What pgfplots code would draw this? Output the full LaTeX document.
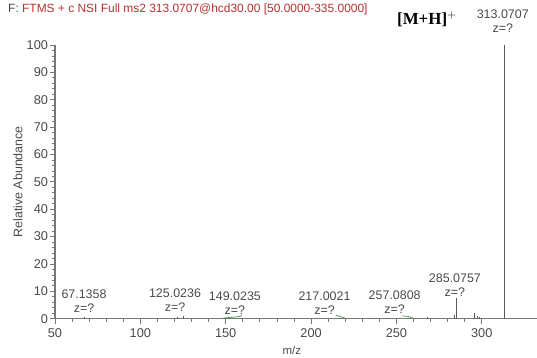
\documentclass[border=0pt]{standalone}
\usepackage{pgfplots}
\pgfplotsset{compat=1.18}
\usepackage{fontspec}
\setmainfont{Liberation Sans}
\newfontfamily\serifb{Liberation Serif}
\definecolor{axgray}{HTML}{777777}
\definecolor{txtgray}{HTML}{4A4A4A}
\definecolor{titlered}{HTML}{B8302F}
\definecolor{peakgray}{HTML}{5A5A5A}
\definecolor{fitgreen}{HTML}{3E8E3E}
\begin{document}
\begin{tikzpicture}
\path[use as bounding box] (0,0) rectangle (537bp,358bp);
\begin{axis}[
  scale only axis,
  width=486.5bp, height=273.7bp,
  at={(55bp,39.3bp)}, anchor=south west,
  xmin=50, xmax=335, ymin=0, ymax=100,
  clip=false,
  axis x line=bottom, axis y line=left,
  axis line style={-, axgray, line width=1.3pt},
  xtick={50,100,...,300}, minor x tick num=4,
  ytick={0,10,...,100}, minor y tick num=4,
  tick align=outside,
  major tick length=5bp, minor tick length=3bp,
  every tick/.style={axgray, line width=0.8pt},
  /pgf/number format/assume math mode=true,
  tick label style={font=\fontsize{12.8}{14}\selectfont, text=txtgray},
  xticklabel style={yshift=-1bp},
  yticklabel style={xshift=1.5bp},
  xlabel={m/z}, ylabel={Relative Abundance},
  every axis x label/.style={at={(axis description cs:0.487,-0.1144)}, anchor=center, font=\fontsize{11.5}{13}\selectfont, text=txtgray},
  every axis y label/.style={at={(axis description cs:-0.076,0.5)}, rotate=90, anchor=center, font=\fontsize{12.5}{14}\selectfont, text=txtgray},
]
\addplot[ycomb, no marks, peakgray, line width=0.9pt] coordinates {
(313.0707,100)
(285.0757,7.5)
(284.2,1.5)
(296.0,2.0)
(297.6,1.0)
(298.6,0.8)
(268.0,0.8)
(67.1358,0.6)
(125.0236,1.0)
(122.0,0.5)
(149.0235,0.4)
(217.0021,0.3)
(257.0808,0.3)
(235.0,0.3)
};
\addplot[fitgreen, line width=0.7pt, smooth] coordinates {(148.5,0.2) (153,0.5) (158,0.8) (159.5,1.2)};
\addplot[fitgreen, line width=0.7pt, smooth] coordinates {(214.5,1.2) (217,0.8) (220,0.2)};
\addplot[fitgreen, line width=0.7pt, smooth] coordinates {(253.5,1.0) (257,0.8) (259.5,0.2)};
\tikzset{lab/.style={align=center, font=\fontsize{12.5}{14}\selectfont, text=txtgray, inner sep=0pt}}
\node[lab] at (axis cs:67.0,6.3) {67.1358\\z=?};
\node[lab] at (axis cs:120.3,6.8) {125.0236\\z=?};
\node[lab] at (axis cs:155.4,5.7) {149.0235\\z=?};
\node[lab] at (axis cs:207.9,5.7) {217.0021\\z=?};
\node[lab] at (axis cs:249.0,6.1) {257.0808\\z=?};
\node[lab] at (axis cs:284.3,12.3) {285.0757\\z=?};
\node[lab] at (axis cs:312.3,108.8) {313.0707\\z=?};
\node[inner sep=0pt] at (axis cs:267.9,109.3) {\serifb\bfseries\fontsize{17}{19}\selectfont [M+H]$^{+}$};
\end{axis}
\node[anchor=west, inner sep=0pt, font=\fontsize{12}{14}\selectfont] at (8bp,349bp) {\textcolor{txtgray}{F:} \textcolor{titlered}{FTMS + c NSI Full ms2 313.0707@hcd30.00 [50.0000-335.0000]}};
\end{tikzpicture}
\end{document}
